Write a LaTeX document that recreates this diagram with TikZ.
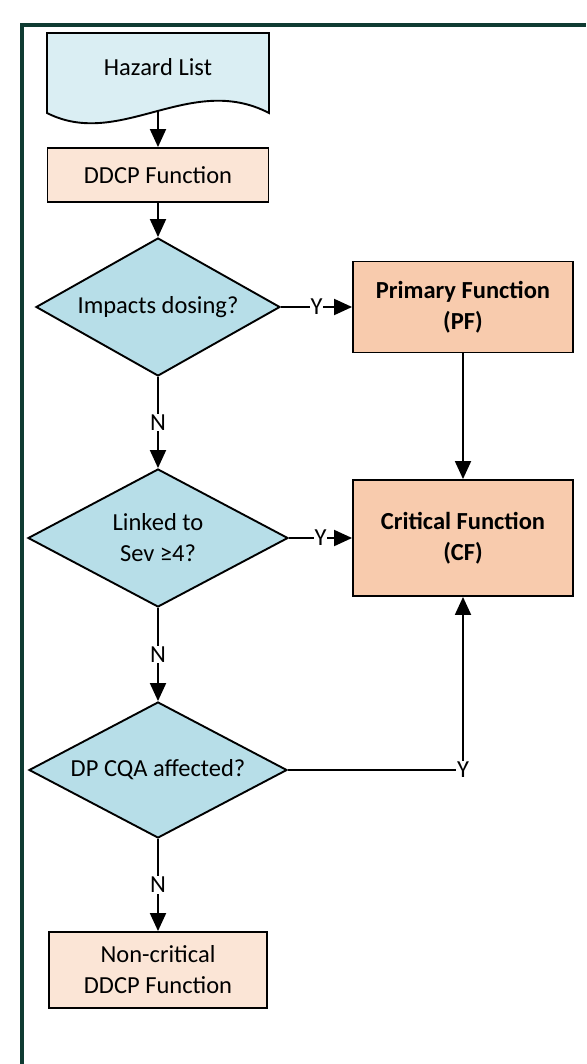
\documentclass[tikz,border=0pt]{standalone}
\usepackage{fontspec}
\setmainfont{Carlito}
\usepackage{xcolor}
\usetikzlibrary{arrows.meta,positioning,shapes.geometric}

\definecolor{docblue}{HTML}{DAEEF3}
\definecolor{procpeach}{HTML}{FBE5D6}
\definecolor{decblue}{HTML}{B7DEE8}
\definecolor{funcorange}{HTML}{F8CBAD}
\definecolor{framegreen}{HTML}{0F3B32}

\begin{document}
\begin{tikzpicture}[x=1pt, y=-1pt,
        every node/.style={font=\fontsize{24.5}{31}\selectfont},
        process/.style={draw, line width=1.9pt, fill=procpeach, minimum width=221pt,
                        align=center, inner sep=0pt},
        decision/.style={draw, diamond, line width=1.9pt, fill=decblue, aspect=1.9,
                        inner sep=1pt, align=center},
        func/.style={draw, line width=1.9pt, fill=funcorange, minimum width=220pt,
                        align=center, font=\fontsize{24.5}{31}\selectfont\bfseries},
        arrow/.style={-{Triangle[length=18pt, width=16pt]}, line width=1.9pt},
        yn/.style={fill=white, inner sep=1pt}
    ]
    \useasboundingbox (0,0) rectangle (586,1064);

    % ---- Frame (open at right and bottom) ----
    \draw[framegreen, line width=3.5pt] (22,1064) -- (22,25) -- (586,25);

    % ---- Hazard List (document shape) ----
    \draw[line width=1.9pt, fill=docblue] (47,113) -- (47,33) -- (269,33) -- (269,113)
        .. controls (190,72) and (120,150) .. (47,113) -- cycle;
    \node[minimum width=222pt] (hazard) at (158,67) {Hazard List};
    \coordinate (hazard-out) at (158,111.5);

    % ---- Main column ----
    \node[process, minimum height=54pt] (ddcp) at (158,175) {DDCP Function};
    \node[decision, minimum width=244pt, minimum height=138pt] (dose) at (158,307) {Impacts dosing?};
    \node[decision, minimum width=260pt, minimum height=138pt] (sev) at (158,538) {Linked to\\Sev ≥4?};
    \node[decision, minimum width=258pt, minimum height=136pt] (cqa) at (158,770) {DP CQA affected?};
    \node[process, minimum width=218pt, minimum height=76pt] (noncrit) at (158,970) {Non-critical\\DDCP Function};

    % ---- Function classes ----
    \node[func, minimum height=91pt] (pf) at (463,307) {Primary Function\\(PF)};
    \node[func, minimum height=116pt] (cf) at (463,538) {Critical Function\\(CF)};

    % Setas: fluxo principal
    \draw[arrow] (hazard-out) -- (ddcp);
    \draw[arrow] (ddcp) -- (dose);
    \draw[arrow] (dose) -- node[yn] {N} (sev);
    \draw[arrow] (sev) -- node[yn] {N} (cqa);
    \draw[arrow] (cqa) -- node[yn] {N} (noncrit);

    % Setas: ramos Y
    \draw[arrow] (dose.east) -- node[yn] {Y} (pf.west);
    \draw[arrow] (sev.east) -- node[yn] {Y} (cf.west);
    \draw[arrow] (cqa.east) -| node[yn, pos=0.5] {Y} (cf.south);
    \draw[arrow] (pf) -- (cf);

\end{tikzpicture}
\end{document}
